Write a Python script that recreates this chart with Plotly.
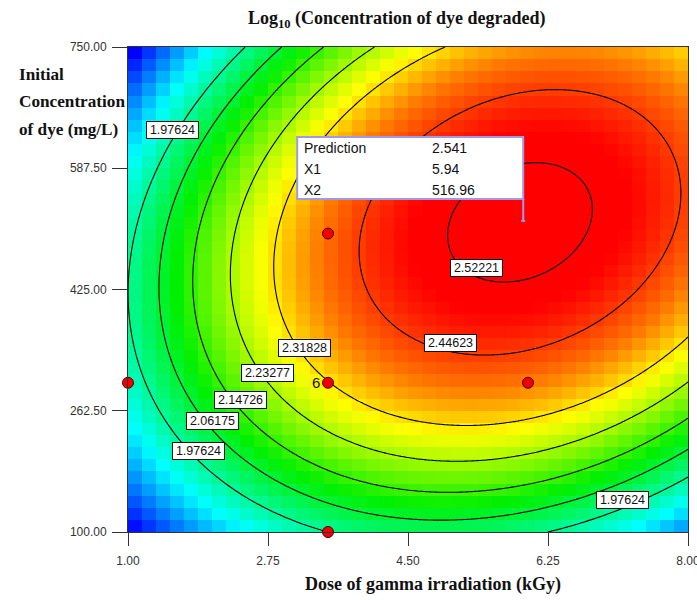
import numpy as np
import plotly.graph_objects as go

# Factor ranges (A: dose of gamma irradiation, B: initial dye concentration)
dose_range = [1.0, 8.0]
conc_range = [100.0, 750.0]

# Quadratic response-surface model in coded factors (-1..+1)
coef_b0 = 2.4828
coef_A = 0.2039
coef_B = 0.1294
coef_AB = 0.139
coef_AA = -0.303
coef_BB = -0.334

# Experimental design points
design_dose = [1.0, 3.5, 6.0, 3.5, 3.5]
design_conc = [300.0, 300.0, 300.0, 500.0, 100.0]
center_replicates = "6"

# Contour levels and where their labels sit (dose value, which branch of the curve)
contour_levels = [1.97624, 2.06175, 2.14726, 2.23277, 2.31828, 2.44623, 2.52221]
label_levels = [1.97624, 1.97624, 2.06175, 2.14726, 2.23277, 2.31828, 2.52221, 2.44623, 1.97624]
label_dose = [1.56, 1.875, 2.05, 2.40, 2.744, 3.20, 5.35, 5.025, 7.175]
label_branch = ["upper", "lower", "lower", "lower", "lower", "lower", "lower", "lower", "lower"]

# Cursor read-out
cursor_dose = 5.94
cursor_conc = 516.96

x_ticks = [1.00, 2.75, 4.50, 6.25, 8.00]
y_ticks = [100.00, 262.50, 425.00, 587.50, 750.00]

dose_mid = (dose_range[0] + dose_range[1]) / 2
dose_half = (dose_range[1] - dose_range[0]) / 2
conc_mid = (conc_range[0] + conc_range[1]) / 2
conc_half = (conc_range[1] - conc_range[0]) / 2


def predict(x1, x2):
    a = (np.asarray(x1) - dose_mid) / dose_half
    b = (np.asarray(x2) - conc_mid) / conc_half
    return (coef_b0 + coef_A * a + coef_B * b + coef_AB * a * b
            + coef_AA * a * a + coef_BB * b * b)


def conc_on_level(level, x1, branch):
    a = (x1 - dose_mid) / dose_half
    qa = coef_BB
    qb = coef_B + coef_AB * a
    qc = coef_b0 + coef_A * a + coef_AA * a * a - level
    r = np.sqrt(qb * qb - 4 * qa * qc)
    roots = sorted([(-qb - r) / (2 * qa), (-qb + r) / (2 * qa)])
    b = roots[0] if branch == "lower" else roots[1]
    return conc_mid + conc_half * b


# Coarse cell grid for the shaded map
n_cells = 40
dx = (dose_range[1] - dose_range[0]) / n_cells
dy = (conc_range[1] - conc_range[0]) / n_cells
cell_x = dose_range[0] + dx * (np.arange(n_cells) + 0.5)
cell_y = conc_range[0] + dy * (np.arange(n_cells) + 0.5)
CX, CY = np.meshgrid(cell_x, cell_y)
cell_z = predict(CX, CY)

# Fine grid for smooth contour lines
fx = np.linspace(dose_range[0], dose_range[1], 241)
fy = np.linspace(conc_range[0], conc_range[1], 241)
FX, FY = np.meshgrid(fx, fy)
fine_z = predict(FX, FY)

rainbow = [[0.0, "#0000ff"], [0.25, "#00ffff"], [0.5, "#00f000"],
           [0.72, "#ffff00"], [0.83, "#ff7800"], [0.95, "#ff0000"], [1.0, "#ff0000"]]

fig = go.Figure()
fig.add_trace(go.Heatmap(
    x=cell_x, y=cell_y, z=cell_z, colorscale=rainbow,
    zmin=float(cell_z.min()), zmax=float(cell_z.max()),
    zsmooth=False, showscale=False, hoverinfo="skip"))

for lvl in contour_levels:
    fig.add_trace(go.Contour(
        x=fx, y=fy, z=fine_z, showscale=False,
        contours=dict(start=lvl, end=lvl, size=1.0, coloring="none"),
        line=dict(color="#000000", width=1.1, smoothing=1),
        hoverinfo="skip"))

fig.add_trace(go.Scatter(
    x=design_dose, y=design_conc, mode="markers", cliponaxis=False,
    marker=dict(size=11, color="#f00000", line=dict(color="#500000", width=1)),
    hoverinfo="skip"))

annotations = []
for lvl, xd, br in zip(label_levels, label_dose, label_branch):
    yv = conc_on_level(lvl, xd, br)
    annotations.append(dict(
        x=xd, y=yv, xref="x", yref="y", text=f"{lvl:.5f}", showarrow=False,
        xanchor="center", yanchor="bottom", bgcolor="white",
        bordercolor="#111111", borderwidth=1, borderpad=1, width=49, height=14,
        font=dict(family="Liberation Sans, Arial", size=12.5, color="#111111")))

# replicate count beside the centre point
annotations.append(dict(
    x=design_dose[1], y=design_conc[1], xref="x", yref="y", text=center_replicates,
    showarrow=False, xanchor="right", yanchor="middle", xshift=-6,
    font=dict(family="Liberation Sans, Arial", size=15, color="#111111")))

# cursor read-out box
pred_val = float(predict(cursor_dose, cursor_conc))
rows = [("Prediction", f"{pred_val:.3f}", 73), ("X1", f"{cursor_dose:.2f}", 52),
        ("X2", f"{cursor_conc:.2f}", 31)]
for name, val, ysh in rows:
    annotations.append(dict(
        x=cursor_dose, y=cursor_conc, xref="x", yref="y", text=name, showarrow=False,
        xanchor="left", yanchor="middle", xshift=-221, yshift=ysh,
        font=dict(family="Liberation Sans, Arial", size=14, color="#111111")))
    annotations.append(dict(
        x=cursor_dose, y=cursor_conc, xref="x", yref="y", text=val, showarrow=False,
        xanchor="left", yanchor="middle", xshift=-93, yshift=ysh,
        font=dict(family="Liberation Sans, Arial", size=14, color="#111111")))

shapes = [
    dict(type="rect", xref="x", yref="y", xsizemode="pixel", ysizemode="pixel",
         xanchor=cursor_dose, yanchor=cursor_conc, x0=-226, x1=0, y0=22, y1=84,
         fillcolor="white", line=dict(color="#9b9be8", width=2), layer="above"),
    dict(type="line", xref="x", yref="y", xsizemode="pixel", ysizemode="pixel",
         xanchor=cursor_dose, yanchor=cursor_conc, x0=0, x1=0, y0=0, y1=22,
         line=dict(color="#9b9be8", width=2), layer="above"),
    dict(type="line", xref="x", yref="y", xsizemode="pixel", ysizemode="pixel",
         xanchor=cursor_dose, yanchor=cursor_conc, x0=-2, x1=2, y0=0, y1=0,
         line=dict(color="#9b9be8", width=2), layer="above"),
]

serif_bold = dict(family="Liberation Serif, Times New Roman", size=18, color="#111111")
serif_bold_side = dict(family="Liberation Serif, Times New Roman", size=17.2, color="#111111")

# axis titles
annotations.append(dict(
    x=0.5446, y=-0.109, xref="paper", yref="paper", showarrow=False,
    text="<b>Dose of gamma irradiation (kGy)</b>", xanchor="center", yanchor="middle",
    font=serif_bold))
for txt, yp in [("Initial", 0.9423), ("Concentration", 0.8866), ("of dye (mg/L)", 0.8309)]:
    annotations.append(dict(
        x=-0.1982, y=yp, xref="paper", yref="paper", showarrow=False,
        text=f"<b>{txt}</b>", xanchor="left", yanchor="middle", font=serif_bold_side))

tick_font = dict(family="Liberation Sans, Arial", size=12, color="#333333")

fig.update_layout(
    width=697, height=600,
    margin=dict(l=128, r=9, t=47, b=68),
    paper_bgcolor="white", plot_bgcolor="white",
    showlegend=False,
    title=dict(text="<b>Log<sub>10</sub> (Concentration of dye degraded)</b>",
               x=0.48 * 560 / 697 + 128 / 697, xanchor="center",
               y=1 - 18 / 600, yanchor="middle", yref="container",
               font=serif_bold),
    xaxis=dict(range=dose_range, tickvals=x_ticks,
               ticktext=[f"{v:.2f}" for v in x_ticks],
               ticks="outside", ticklen=13, tickcolor="#333333", tickwidth=1,
               showline=True, linecolor="#333333", linewidth=1, mirror=True,
               showgrid=False, zeroline=False, tickfont=tick_font,
               ticklabelstandoff=5, ticklabeloverflow="allow",
               automargin=False),
    yaxis=dict(range=conc_range, tickvals=y_ticks,
               ticktext=[f"{v:.2f}" for v in y_ticks],
               ticks="outside", ticklen=15, tickcolor="#333333", tickwidth=1,
               showline=True, linecolor="#333333", linewidth=1, mirror=True,
               showgrid=False, zeroline=False, tickfont=tick_font,
               ticklabelstandoff=3, ticklabeloverflow="allow",
               automargin=False),
    annotations=annotations,
    shapes=shapes,
)

fig.write_html("out.html")
